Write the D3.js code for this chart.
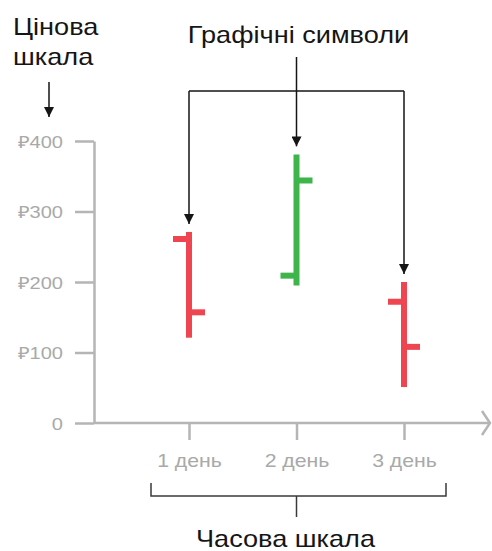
<!DOCTYPE html>
<html>
<head>
<meta charset="utf-8">
<script src="https://cdn.jsdelivr.net/npm/d3@7"></script>
<style>
  html, body { margin: 0; padding: 0; background: #fff; }
  svg { display: block; }
  text { font-family: "Liberation Sans", Arial, sans-serif; }
</style>
</head>
<body>
<svg id="chart" width="492" height="551"></svg>
<script>
// OHLC data, one bar per day
const days = ["1 день", "2 день", "3 день"];
const openValues  = [261, 209, 172];
const highValues  = [271, 381, 200];
const lowValues   = [121, 195, 51];
const closeValues = [157, 344, 108];
const priceTicks = [0, 100, 200, 300, 400];

const bars = days.map((d, i) => ({
  day: d, open: openValues[i], high: highValues[i], low: lowValues[i], close: closeValues[i]
}));

const svg = d3.select("#chart");
const stretch = 1.18;           // wide lettering
const axisGrey = "#b5b5b5";
const labelGrey = "#a9a9a9";
const ink = "#151515";
const up = "#3db54b", down = "#ee4550";

const y = d3.scaleLinear().domain([0, 400]).range([423, 141]);
const x = d3.scalePoint().domain(days).range([189, 404]);
const axisX = 94;

// arrowhead marker
const defs = svg.append("defs");
defs.append("marker")
  .attr("id", "tri").attr("viewBox", "0 0 10 10")
  .attr("refX", 10).attr("refY", 5)
  .attr("markerWidth", 10).attr("markerHeight", 10)
  .attr("markerUnits", "userSpaceOnUse")
  .attr("orient", "auto")
  .append("path").attr("d", "M0,0 L10,5 L0,10 Z").attr("fill", ink);

// y axis
const yAxis = svg.append("g")
  .attr("transform", `translate(${axisX},0)`)
  .call(d3.axisLeft(y).tickValues(priceTicks)
    .tickFormat(d => d === 0 ? "0" : "₽" + d)
    .tickSize(19).tickSizeOuter(0));
yAxis.select(".domain").attr("stroke", axisGrey).attr("stroke-width", 2.5);
yAxis.selectAll(".tick line").attr("stroke", axisGrey).attr("stroke-width", 2.5);
yAxis.selectAll(".tick text")
  .attr("x", 0).attr("dy", "0.36em")
  .attr("transform", `translate(-31,0) scale(${stretch},1)`)
  .attr("fill", labelGrey).attr("font-size", 17)
  .attr("font-family", "Liberation Sans, Arial, sans-serif");

// x axis
const xAxis = svg.append("g")
  .attr("transform", `translate(0,${y(0)})`)
  .call(d3.axisBottom(x).tickSize(17).tickSizeOuter(0));
xAxis.select(".domain").remove();
xAxis.selectAll(".tick line").attr("stroke", axisGrey).attr("stroke-width", 2.5);
xAxis.selectAll(".tick text")
  .attr("y", 0).attr("dy", 0)
  .attr("transform", `translate(0,44) scale(${stretch},1)`)
  .attr("fill", labelGrey).attr("font-size", 18)
  .attr("font-family", "Liberation Sans, Arial, sans-serif");

// time axis line with open arrowhead
const xEnd = 490;
svg.append("line")
  .attr("x1", axisX).attr("x2", xEnd).attr("y1", y(0)).attr("y2", y(0))
  .attr("stroke", axisGrey).attr("stroke-width", 2.5);
svg.append("path")
  .attr("d", `M${xEnd - 8},${y(0) - 12} L${xEnd},${y(0)} L${xEnd - 8},${y(0) + 12}`)
  .attr("fill", "none").attr("stroke", axisGrey).attr("stroke-width", 2.5);

// OHLC bars
const tick = 16, barW = 6;
const g = svg.append("g").attr("class", "bars");
const bar = g.selectAll("g").data(bars).join("g")
  .attr("stroke", d => d.close >= d.open ? up : down)
  .attr("stroke-width", barW);
bar.append("line")
  .attr("x1", d => x(d.day)).attr("x2", d => x(d.day))
  .attr("y1", d => y(d.high)).attr("y2", d => y(d.low));
bar.append("line")
  .attr("x1", d => x(d.day) - tick).attr("x2", d => x(d.day))
  .attr("y1", d => y(d.open)).attr("y2", d => y(d.open));
bar.append("line")
  .attr("x1", d => x(d.day)).attr("x2", d => x(d.day) + tick)
  .attr("y1", d => y(d.close)).attr("y2", d => y(d.close));

// helper for stretched text
function label(txt, tx, ty, size, anchor) {
  svg.append("text")
    .attr("transform", `translate(${tx},${ty}) scale(${stretch},1)`)
    .attr("text-anchor", anchor).attr("font-size", size)
    .attr("fill", ink).text(txt);
}

// price scale caption
label("Цінова", 13, 35, 23, "start");
label("шкала", 13, 65, 23, "start");
svg.append("line")
  .attr("x1", 49).attr("x2", 49).attr("y1", 82).attr("y2", 117)
  .attr("stroke", ink).attr("stroke-width", 1.5).attr("marker-end", "url(#tri)");

// symbol caption with pointers
const mid = x(days[1]);
label("Графічні символи", mid + 2, 43, 23, "middle");
const ann = svg.append("g").attr("stroke", ink).attr("stroke-width", 1.5).attr("fill", "none");
const hy = 91;
ann.append("line").attr("x1", mid).attr("x2", mid).attr("y1", 57).attr("y2", hy);
ann.append("line").attr("x1", x(days[0])).attr("x2", x(days[2])).attr("y1", hy).attr("y2", hy);
ann.selectAll("line.drop").data(bars).join("line").attr("class", "drop")
  .attr("x1", d => x(d.day)).attr("x2", d => x(d.day))
  .attr("y1", hy).attr("y2", d => y(d.high) - 8)
  .attr("marker-end", "url(#tri)");

// time scale bracket
const by = 496;
const br = svg.append("g").attr("stroke", "#3a3a3a").attr("stroke-width", 1.5).attr("fill", "none");
br.append("path")
  .attr("d", `M${x(days[0]) - 38},${by - 13} V${by} H${x(days[2]) + 42} V${by - 13}`);
br.append("line").attr("x1", mid).attr("x2", mid).attr("y1", by).attr("y2", 517);
label("Часова шкала", mid - 11, 547, 23, "middle");
</script>
</body>
</html>
